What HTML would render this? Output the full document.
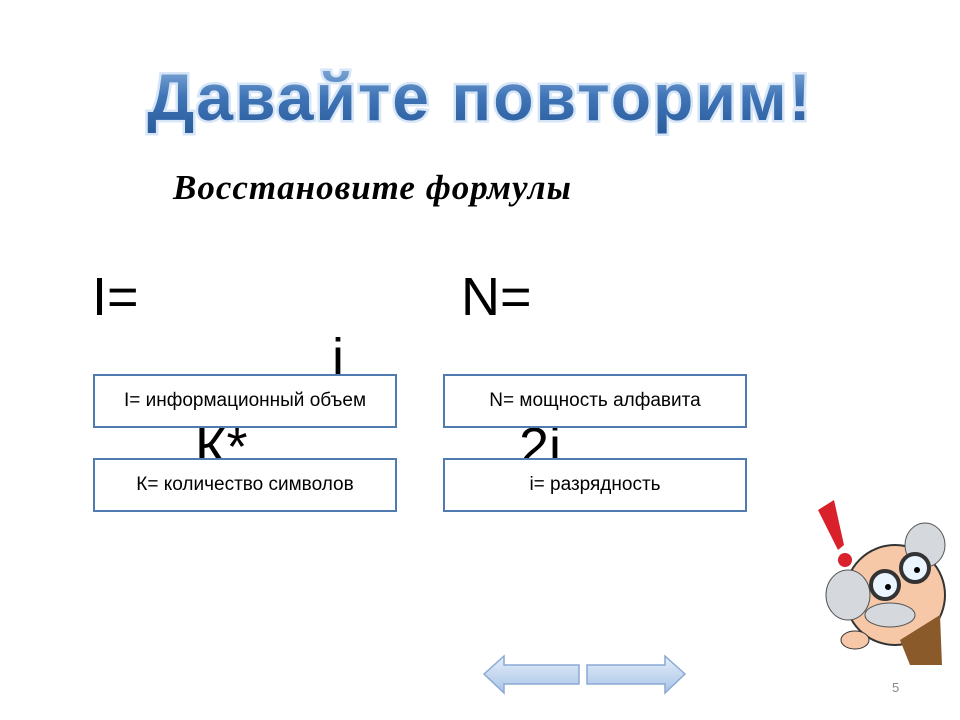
<!DOCTYPE html>
<html><head><meta charset="utf-8"><style>
body{margin:0;width:960px;height:720px;background:#fff;position:relative;overflow:hidden;font-family:"Liberation Sans",sans-serif}
.t{position:absolute;white-space:nowrap}
.big{font-size:54px;color:#000;line-height:1}
.box{position:absolute;width:300px;height:50px;border:2px solid #4f7bb0;background:#fff;font-size:19px;display:flex;align-items:center;justify-content:center;box-sizing:content-box}
</style></head><body>
<svg class="t" style="left:0;top:40px" width="960" height="110">
<defs><linearGradient id="g" x1="0" y1="0" x2="0" y2="1"><stop offset="0" stop-color="#8fb4de"/><stop offset="0.5" stop-color="#3f74b6"/><stop offset="1" stop-color="#2a5c9c"/></linearGradient></defs>
<text x="480" y="80" text-anchor="middle" font-family="Liberation Sans" font-weight="bold" font-size="66" letter-spacing="2" fill="url(#g)" stroke="#d6e6f7" stroke-width="5" paint-order="stroke">Давайте повторим!</text>
</svg>
<div class="t" style="left:173px;top:168px;font-family:'Liberation Serif',serif;font-style:italic;font-weight:bold;font-size:35px;letter-spacing:1px">Восстановите формулы</div>
<div class="t big" style="left:92px;top:270px">I=</div>
<div class="t big" style="left:461px;top:270px">N=</div>
<div class="t big" style="left:332px;top:331px">i</div>
<div class="t big" style="left:195px;top:420px">К*</div>
<div class="t big" style="left:519px;top:420px">2i</div>
<div class="box" style="left:93px;top:374px">I= информационный объем</div>
<div class="box" style="left:443px;top:374px">N= мощность алфавита</div>
<div class="box" style="left:93px;top:458px">К= количество символов</div>
<div class="box" style="left:443px;top:458px">i= разрядность</div>
<svg class="t" style="left:480px;top:650px" width="210" height="50">
<defs><linearGradient id="a" x1="0" y1="0" x2="0" y2="1"><stop offset="0" stop-color="#e4eefa"/><stop offset="1" stop-color="#a9c4e6"/></linearGradient></defs>
<polygon points="4,24 24,6 24,15 99,15 99,34 24,34 24,43" fill="url(#a)" stroke="#8aa9d3" stroke-width="1.5"/>
<polygon points="205,24 185,6 185,15 107,15 107,34 185,34 185,43" fill="url(#a)" stroke="#8aa9d3" stroke-width="1.5"/>
</svg>
<svg class="t" style="left:800px;top:490px" width="160" height="180">
<path d="M18,20 L34,10 L44,55 L38,60 Z" fill="#d8212b"/>
<circle cx="45" cy="70" r="7" fill="#d8212b"/>
<circle cx="95" cy="105" r="50" fill="#f6c8a8" stroke="#333" stroke-width="2"/>
<ellipse cx="48" cy="105" rx="22" ry="25" fill="#d5d8dc" stroke="#555"/>
<ellipse cx="125" cy="55" rx="20" ry="22" fill="#d5d8dc" stroke="#555"/>
<circle cx="85" cy="95" r="14" fill="#eaf5ff" stroke="#333" stroke-width="4"/>
<circle cx="115" cy="78" r="14" fill="#eaf5ff" stroke="#333" stroke-width="4"/>
<circle cx="88" cy="97" r="3" fill="#000"/><circle cx="117" cy="80" r="3" fill="#000"/>
<ellipse cx="90" cy="125" rx="25" ry="12" fill="#d5d8dc" stroke="#555"/>
<path d="M100,150 L140,125 L142,175 L110,175 Z" fill="#8a5a2b"/>
<ellipse cx="55" cy="150" rx="14" ry="9" fill="#f6c8a8" stroke="#333"/>
</svg>
<div class="t" style="left:892px;top:680px;font-size:13px;color:#888">5</div>
</body></html>
